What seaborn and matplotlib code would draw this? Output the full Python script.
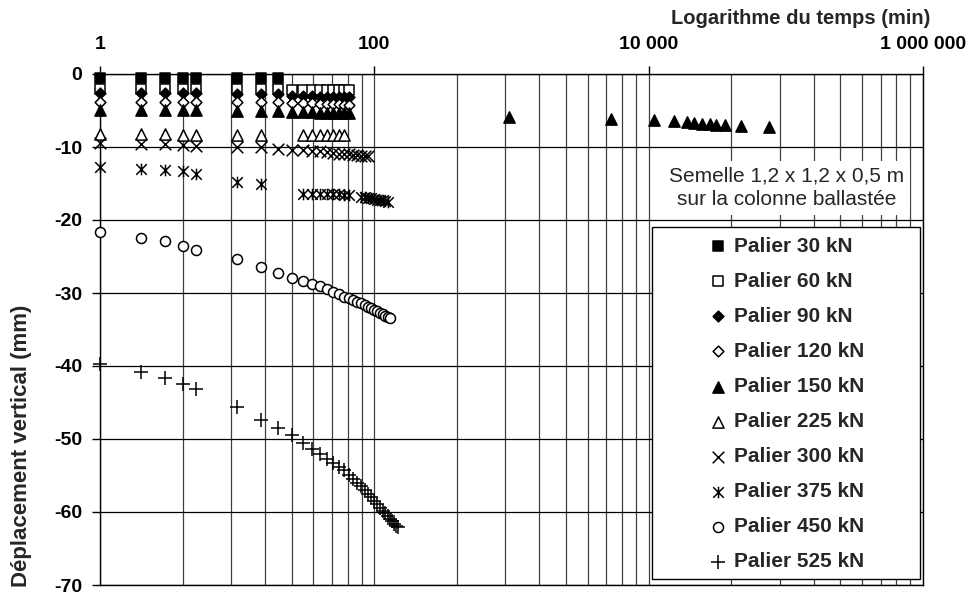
import matplotlib
matplotlib.use("Agg")
import matplotlib.pyplot as plt
from matplotlib.path import Path
from matplotlib.patches import Rectangle
from matplotlib.ticker import FixedLocator, NullFormatter
import seaborn as sns

sns.set_style("white")
plt.rcParams["font.family"] = ["Liberation Sans", "DejaVu Sans"]
plt.rcParams["axes.unicode_minus"] = False

# ---- data (time in min, vertical displacement in mm) ----
t_first = [1, 2, 3, 4, 5, 10, 15, 20]
t_25_65 = [25, 30, 35, 40, 45, 50, 55, 60, 65]

t_30 = t_first
d_30 = [-0.6, -0.6, -0.6, -0.6, -0.6, -0.6, -0.6, -0.6]

t_60 = t_first + t_25_65
d_60 = [-2.0, -2.0, -2.0, -2.0, -2.0, -2.1, -2.1, -2.1,
        -2.2, -2.2, -2.2, -2.2, -2.2, -2.2, -2.2, -2.2, -2.2]

t_90 = t_first + t_25_65
d_90 = [-2.6, -2.6, -2.6, -2.6, -2.6, -2.7, -2.7, -2.8,
        -3.0, -3.0, -3.0, -3.1, -3.1, -3.1, -3.1, -3.2, -3.2]

t_120 = t_first + t_25_65
d_120 = [-3.8, -3.8, -3.8, -3.8, -3.8, -3.9, -3.9, -3.9,
         -4.0, -4.0, -4.0, -4.1, -4.1, -4.1, -4.1, -4.2, -4.2]

t_150 = t_first + t_25_65 + [966, 5330, 10870, 15200, 19050, 21300,
                             24500, 27800, 31200, 35900, 47500, 75500]
d_150 = [-4.9, -4.9, -4.9, -4.9, -4.9, -5.0, -5.0, -5.1,
         -5.2, -5.2, -5.2, -5.3, -5.3, -5.3, -5.4, -5.4, -5.4,
         -5.9, -6.2, -6.3, -6.5, -6.55, -6.7, -6.8, -6.9, -7.0, -7.0, -7.1, -7.3]

t_225 = [1, 2, 3, 4, 5, 10, 15, 30, 35, 40, 45, 50, 55, 60]
d_225 = [-8.2, -8.2, -8.2, -8.3, -8.3, -8.4, -8.3,
         -8.3, -8.3, -8.3, -8.3, -8.3, -8.3, -8.3]

t_300 = t_first + [25, 30, 35, 40, 45, 50, 55, 60, 65, 70, 75, 80, 85, 90]
d_300 = [-9.4, -9.6, -9.6, -9.7, -9.8, -10.0, -10.0, -10.3,
         -10.4, -10.4, -10.5, -10.6, -10.7, -10.8, -10.9, -11.0,
         -11.0, -11.1, -11.1, -11.2, -11.2, -11.3]

t_375 = [1, 2, 3, 4, 5, 10, 15,
         30, 35, 40, 45, 50, 55, 60, 65,
         80, 85, 90, 95, 100, 105, 110, 115, 120, 125]
d_375 = [-12.7, -13.0, -13.1, -13.3, -13.7, -14.8, -15.1,
         -16.4, -16.4, -16.4, -16.5, -16.5, -16.5, -16.6, -16.6,
         -16.8, -16.9, -17.0, -17.0, -17.1, -17.2, -17.2, -17.3, -17.4, -17.5]

t_450 = t_first + list(range(25, 131, 5))
d_450 = [-21.6, -22.4, -22.9, -23.5, -24.1, -25.4, -26.5, -27.3,
         -27.9, -28.4, -28.8, -29.1, -29.4, -29.9, -30.2, -30.5, -30.7,
         -30.9, -31.2, -31.4, -31.6, -31.9, -32.1, -32.3, -32.5, -32.7,
         -32.9, -33.1, -33.3, -33.4]

t_525 = t_first + list(range(25, 151, 5))
d_525 = [-39.7, -40.8, -41.6, -42.4, -43.2, -45.6, -47.4, -48.5,
         -49.5, -50.5, -51.4, -52.1, -52.7, -53.3, -53.8, -54.3, -54.9,
         -55.5, -56.0, -56.5, -57.0, -57.5, -58.0, -58.5, -58.9, -59.4,
         -59.8, -60.2, -60.6, -61.0, -61.3, -61.6, -61.9, -62.1]

x_ticks = [1, 100, 10000, 1000000]
x_ticklabels = ["1", "100", "10 000", "1 000 000"]

# asterisk marker: x with a vertical bar
star = Path([(-1, -1), (1, 1), (-1, 1), (1, -1), (0, -1.1), (0, 1.1)],
            [Path.MOVETO, Path.LINETO] * 3)

series = [
    ("Palier 30 kN", t_30, d_30, "s", "black", 60),
    ("Palier 60 kN", t_60, d_60, "s", "white", 60),
    ("Palier 90 kN", t_90, d_90, "D", "black", 30),
    ("Palier 120 kN", t_120, d_120, "D", "white", 30),
    ("Palier 150 kN", t_150, d_150, "^", "black", 65),
    ("Palier 225 kN", t_225, d_225, "^", "white", 65),
    ("Palier 300 kN", t_300, d_300, "x", "black", 70),
    ("Palier 375 kN", t_375, d_375, star, "black", 70),
    ("Palier 450 kN", t_450, d_450, "o", "white", 52),
    ("Palier 525 kN", t_525, d_525, "+", "black", 90),
]

fig = plt.figure(figsize=(9.73, 5.95), dpi=100)
ax = fig.add_axes([100 / 973, 1 - 585 / 595, 823 / 973, 511 / 595])

for label, t, d, mk, fc, size in series:
    sns.scatterplot(x=t, y=d, marker=mk, color=fc, edgecolor="black",
                    s=size, linewidth=1.1, label=label, ax=ax, zorder=3,
                    clip_on=False)

ax.set_xscale("log")
ax.set_xlim(1, 1e6)
ax.set_ylim(-70, 0)
ax.xaxis.tick_top()
ax.xaxis.set_label_position("top")
ax.set_xticks(x_ticks, x_ticklabels)
minor = sorted(m * m * 100 ** k for k in range(3) for m in range(2, 10))
ax.xaxis.set_minor_locator(FixedLocator(minor))
ax.xaxis.set_minor_formatter(NullFormatter())
ax.set_yticks(range(-70, 1, 10))

ax.tick_params(axis="x", which="major", direction="out", length=6, width=1,
               top=True, bottom=False, pad=9, labelsize=14, colors="black")
ax.tick_params(axis="x", which="minor", length=0)
ax.tick_params(axis="y", direction="out", length=6, width=1, left=True,
               pad=7, labelsize=14, colors="black")
for lbl in ax.get_xticklabels() + ax.get_yticklabels():
    lbl.set_fontweight("bold")

ax.grid(True, which="major", axis="y", color="black", lw=0.9)
ax.grid(True, which="both", axis="x", color="0.25", lw=0.9)
ax.set_axisbelow(True)
for sp in ax.spines.values():
    sp.set_color("black")
    sp.set_linewidth(1)

ax.set_xlabel("Logarithme du temps (min)", fontsize=14.5, fontweight="bold", va="center")
ax.xaxis.set_label_coords((801 - 100) / 823, 1 + (74 - 19) / 511)
ax.set_ylabel("")
fig.text(22 / 973, 1 - 446 / 595, "Déplacement vertical (mm)", rotation=90,
         ha="center", va="center", fontsize=16, fontweight="bold")

ax.text((787 - 100) / 823, (585 - 188) / 511,
        "Semelle 1,2 x 1,2 x 0,5 m\nsur la colonne ballastée",
        transform=ax.transAxes, ha="center", va="center", fontsize=15,
        linespacing=1.3, zorder=4,
        bbox=dict(facecolor="white", edgecolor="none", pad=4))

ax.add_patch(Rectangle((652 / 973, 1 - 579 / 595), 268 / 973, 352 / 595,
                       transform=fig.transFigure, facecolor="white",
                       edgecolor="black", lw=1, zorder=4, clip_on=False))
leg = ax.legend(loc="center", bbox_to_anchor=(788 / 973, 1 - 404 / 595),
                bbox_transform=fig.transFigure, frameon=False,
                prop=dict(size=15, weight="bold"), handlelength=0.6,
                handletextpad=0.45, labelspacing=0.77, borderpad=0)
leg.set_zorder(5)

fig.savefig("out.png", dpi=100)
